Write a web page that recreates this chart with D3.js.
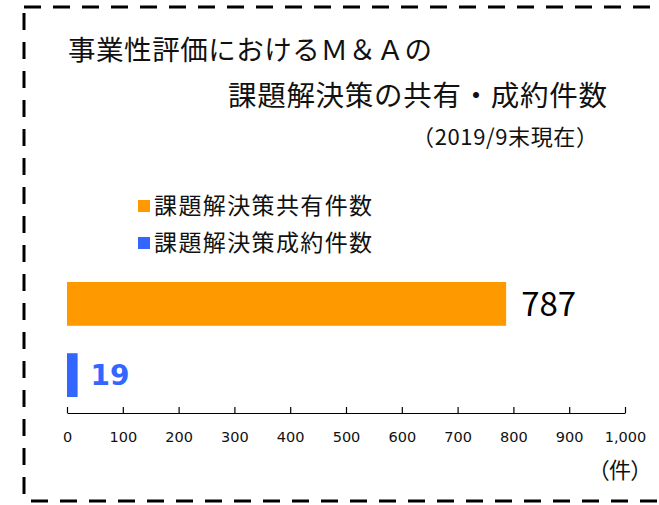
<!DOCTYPE html>
<html><head><meta charset="utf-8">
<script src="https://cdn.jsdelivr.net/npm/d3@7"></script>
<style>body{margin:0;background:#fff}svg{display:block}</style>
</head><body>
<script>
const categories = ["課題解決策共有件数", "課題解決策成約件数"];
const values = [787, 19];
const colors = ["#FF9900", "#3366FF"];
const tickValues = [0,100,200,300,400,500,600,700,800,900,1000];
const titleLines = ["事業性評価におけるＭ＆Ａの", "課題解決策の共有・成約件数", "（2019/9末現在）"];
const unitLabel = "（件）";

const W = 659, H = 505;
const jp = "'Noto Sans CJK JP', sans-serif";
const svg = d3.select("body").append("svg").attr("width", W).attr("height", H);

// dashed frame
const dash = "17,12";
const frame = svg.append("g").attr("stroke", "#000").attr("stroke-width", 3).attr("stroke-dasharray", dash);
frame.append("line").attr("x1", 24).attr("y1", 7).attr("x2", 700).attr("y2", 7);
frame.append("line").attr("x1", 24).attr("y1", 13).attr("x2", 24).attr("y2", 498);
frame.append("line").attr("x1", 31).attr("y1", 501).attr("x2", 700).attr("y2", 501);

// titles
svg.append("text").attr("x", 68).attr("y", 60).attr("font-family", jp).attr("font-size", 27.5)
  .attr("textLength", 364).attr("fill", "#111").text(titleLines[0]);
svg.append("text").attr("x", 228).attr("y", 106).attr("font-family", jp).attr("font-size", 28.5)
  .attr("textLength", 379).attr("fill", "#111").text(titleLines[1]);
svg.append("text").attr("x", 412).attr("y", 145).attr("font-family", jp).attr("font-size", 22)
  .attr("textLength", 186).attr("fill", "#111").text(titleLines[2]);

// legend
const leg = svg.append("g");
categories.forEach((c, i) => {
  const y = 206 + i * 37;
  leg.append("rect").attr("x", 138).attr("y", y - 6).attr("width", 12).attr("height", 12).attr("fill", colors[i]);
  leg.append("text").attr("x", 154).attr("y", y + 8).attr("font-family", jp).attr("font-size", 23)
    .attr("textLength", 218).attr("fill", "#111").text(c);
});

// scales
const x = d3.scaleLinear().domain([0, 1000]).range([67, 625]);
const y = d3.scaleBand().domain(categories).range([282, 397]).paddingInner(0.385).paddingOuter(0);

svg.append("g").selectAll("rect").data(categories).join("rect")
  .attr("x", x(0)).attr("y", d => y(d))
  .attr("width", (d, i) => x(values[i]) - x(0))
  .attr("height", y.bandwidth())
  .attr("fill", (d, i) => colors[i]);

// value labels
svg.append("text").attr("x", x(values[0]) + 15).attr("y", y(categories[0]) + y.bandwidth() / 2 + 12)
  .attr("font-family", jp).attr("font-size", 33).attr("fill", "#000").text(values[0]);
svg.append("text").attr("x", x(values[1]) + 13).attr("y", y(categories[1]) + y.bandwidth() / 2 + 10)
  .attr("font-family", "'DejaVu Sans', sans-serif").attr("font-weight", "bold").attr("font-size", 28).attr("fill", colors[1]).text(values[1]);

// axis
const axis = d3.axisBottom(x).tickValues(tickValues).tickSize(0).tickPadding(0).tickFormat(d3.format(","));
const ag = svg.append("g").attr("transform", "translate(0,413)").call(axis);
ag.select(".domain").attr("stroke", "#000").attr("stroke-width", 1.2);
ag.selectAll(".tick").append("line").attr("y1", 0).attr("y2", -6).attr("stroke", "#000").attr("stroke-width", 1.2);
ag.selectAll(".tick text").attr("y", 29).attr("dy", 0).attr("font-family", "'DejaVu Sans', sans-serif").attr("font-size", 14.5).attr("fill", "#111");

svg.append("text").attr("x", 598).attr("y", 478).attr("font-family", jp).attr("font-size", 22)
  .style("font-feature-settings", "'palt' 1")
  .attr("textLength", 44).attr("fill", "#111").text(unitLabel);
</script>
</body></html>
